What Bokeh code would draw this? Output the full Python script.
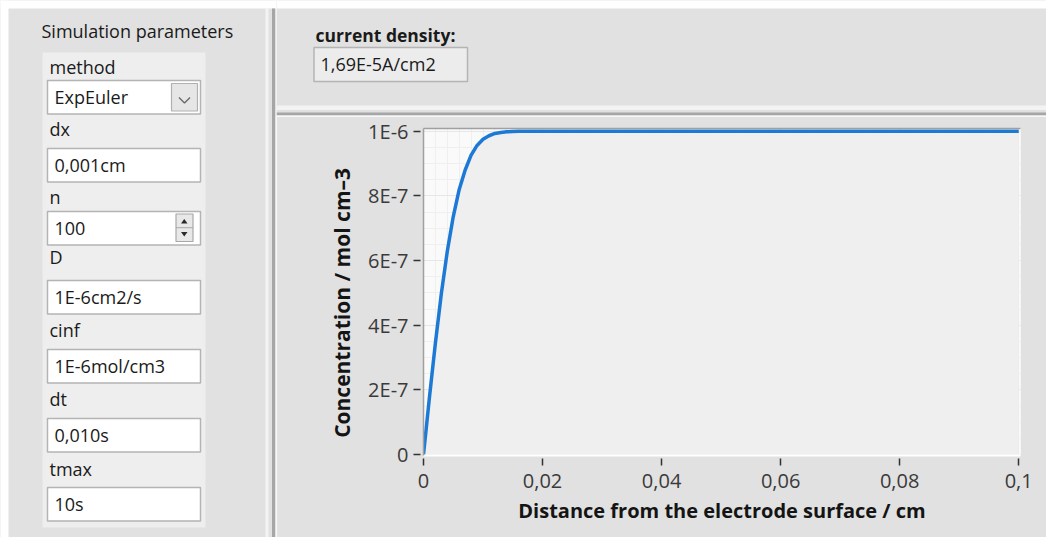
from bokeh.plotting import figure
from bokeh.layouts import row, column
from bokeh.models import Range1d, LinearAxis, FixedTicker, CustomJSTickFormatter, Grid
from bokeh.core.properties import value
from bokeh.embed import file_html
from bokeh.resources import INLINE

# ---------------- data ----------------
distance_cm = [0.000, 0.001, 0.002, 0.003, 0.004, 0.005, 0.006, 0.007, 0.008,
               0.009, 0.010, 0.011, 0.012, 0.013, 0.014, 0.015, 0.016, 0.100]
concentration = [0.0, 1.77e-7, 3.45e-7, 4.98e-7, 6.29e-7, 7.36e-7, 8.20e-7, 8.80e-7,
                 9.26e-7, 9.56e-7, 9.75e-7, 9.86e-7, 9.93e-7, 9.96e-7, 9.98e-7,
                 9.99e-7, 1.0e-6, 1.0e-6]
x_ticks = [0.0, 0.02, 0.04, 0.06, 0.08, 0.1]
y_ticks = [0.0, 2e-7, 4e-7, 6e-7, 8e-7, 1e-6]
x_label = "Distance from the electrode surface / cm"
y_label = "Concentration / mol cm\u20133"

panel_title = "Simulation parameters"
method_label = "method"
method_value = "ExpEuler"
param_labels = ["dx", "n", "D", "cinf", "dt", "tmax"]
param_values = ["0,001cm", "100", "1E-6cm2/s", "1E-6mol/cm3", "0,010s", "10s"]
result_label = "current density:"
result_value = "1,69E-5A/cm2"

# ---------------- style ----------------
FONT = "Open Sans"
BG = "#e1e1e1"
TXT = "#1a1a1a"
BORDER = "#b4b4b4"
MID = 7  # baseline -> middle offset for ~18px text

def txt(fig, xs, baselines, texts, size="18px", style="normal"):
    fig.text(x=xs, y=[b - MID for b in baselines], text=texts, text_font=value(FONT),
             text_font_size=size, text_font_style=style, text_color=TXT,
             text_baseline="middle", text_align="left")

# ---------------- left panel ----------------
L = figure(width=276, height=537, x_range=Range1d(0, 276), y_range=Range1d(537, 0),
           x_axis_type=None, y_axis_type=None, output_backend="svg", toolbar_location=None,
           min_border=0, background_fill_color=BG, border_fill_color=BG, outline_line_color=None)
L.frame_align = False
L.grid.visible = False
# page margin look (white strip left/top)
L.quad(left=0, right=8, top=0, bottom=537, fill_color="white", line_color=None)
L.quad(left=0, right=276, top=0, bottom=8, fill_color="white", line_color=None)

# separators
L.quad(left=265, right=268, top=8, bottom=537, fill_color="#f3f3f3", line_color=None)
L.quad(left=271.5, right=274.5, top=8, bottom=537, fill_color="#a6a6a6", line_color=None)

txt(L, [41], [37], [panel_title], size="18px")
L.quad(left=42, right=205, top=52, bottom=527, fill_color="#eeeeee", line_color=None)

# combo box
txt(L, [49], [73.5], [method_label])
L.quad(left=47, right=200, top=80, bottom=113.5, fill_color="white", line_color=BORDER, line_width=1.5)
L.quad(left=171, right=197, top=83, bottom=110.5, fill_color="#e6e6e6", line_color="#b0b0b0", line_width=1.2)
L.line(x=[178.5, 184, 189.5], y=[97, 102.5, 97], line_color="#6a6a6a", line_width=1.4)
txt(L, [54], [103.5], [method_value])

label_baselines = [135, 203, 263.5, 336.5, 405, 475]
box_tops = [148, 211, 280, 349, 418, 487]
BOX_H = 33.5
txt(L, [49] * len(param_labels), label_baselines, param_labels)
L.quad(left=[47] * len(box_tops), right=[200] * len(box_tops), top=box_tops,
       bottom=[t + BOX_H for t in box_tops], fill_color="white", line_color=BORDER, line_width=1.5)
txt(L, [54] * len(param_values), [t + 23.5 for t in box_tops], param_values)

# spinner on the "n" box
L.quad(left=175.5, right=192.5, top=213.5, bottom=241, fill_color="#e8e8e8", line_color="#a8a8a8", line_width=1.2)
L.line(x=[175.5, 192.5], y=[227.2, 227.2], line_color="#a8a8a8", line_width=1)
L.patches(xs=[[180.5, 187, 183.75], [180.5, 187, 183.75]],
          ys=[[223, 223, 218.5], [231.5, 231.5, 236]],
          fill_color="#2a2a2a", line_color=None)

# ---------------- top strip ----------------
T = figure(width=770, height=116, x_range=Range1d(276, 1046), y_range=Range1d(116, 0),
           x_axis_type=None, y_axis_type=None, output_backend="svg", toolbar_location=None,
           min_border=0, background_fill_color=BG, border_fill_color=BG, outline_line_color=None)
T.frame_align = False
T.grid.visible = False
T.quad(left=276, right=1046, top=0, bottom=8, fill_color="white", line_color=None)
txt(T, [315], [41.7], [result_label], size="17.5px", style="bold")
T.quad(left=313.5, right=467, top=47, bottom=81, fill_color="#ececec", line_color=BORDER, line_width=1.5)
txt(T, [320], [70.5], [result_value])
T.quad(left=276, right=1046, top=105, bottom=109.5, fill_color="#f3f3f3", line_color=None)
T.quad(left=276, right=1046, top=112, bottom=114.5, fill_color="#a6a6a6", line_color=None)

# ---------------- chart ----------------
P = figure(width=770, height=421, x_range=Range1d(0, 0.1003), y_range=Range1d(-0.0031e-6, 1.0084e-6),
           x_axis_type=None, y_axis_type=None, output_backend="svg", toolbar_location=None,
           min_border_left=147, min_border_right=26, min_border_top=12, min_border_bottom=82,
           background_fill_color="#fafafa", border_fill_color=BG, outline_line_color=None)
P.frame_align = False

x_minor = [i * 0.002 for i in range(51)]
y_minor = [i * 0.5e-7 for i in range(21)]
xt = FixedTicker(ticks=x_ticks, minor_ticks=x_minor)
yt = FixedTicker(ticks=y_ticks, minor_ticks=y_minor)

xfmt = CustomJSTickFormatter(code="""
if (Math.abs(tick) < 1e-12) return "0";
return (Math.round(tick*100)/100).toString().replace(".", ",");
""")
yfmt = CustomJSTickFormatter(code="""
if (Math.abs(tick) < 1e-15) return "0";
const e = Math.floor(Math.log10(Math.abs(tick)) + 1e-9);
const m = Math.round(tick / Math.pow(10, e));
return m + "E" + e;
""")

common = dict(major_tick_in=-3, major_tick_out=10, major_tick_line_color="#333333",
              major_tick_line_width=1.5, minor_tick_in=0, minor_tick_out=0,
              major_label_text_font=FONT, major_label_text_font_size="20px",
              major_label_text_color="#3a3a3a",
              axis_label_text_font=FONT, axis_label_text_font_style="bold",
              axis_label_text_color="#141414")

xaxis = LinearAxis(ticker=xt, formatter=xfmt, axis_label=x_label, axis_line_color="white",
                   axis_line_width=2, major_label_standoff=8, axis_label_standoff=6,
                   axis_label_text_font_size="20px", **common)
yaxis = LinearAxis(ticker=yt, formatter=yfmt, axis_label=y_label + "\u00a0" * 4,
                   axis_line_color="#a0a0a0", axis_line_width=1.5, major_label_standoff=5,
                   axis_label_standoff=9, axis_label_text_font_size="21px", **common)
topaxis = LinearAxis(ticker=FixedTicker(ticks=[]), axis_line_color="#a0a0a0", axis_line_width=1.5,
                     major_tick_in=0, major_tick_out=0, minor_tick_in=0, minor_tick_out=0,
                     major_label_text_font_size="0px")
P.add_layout(xaxis, "below")
P.add_layout(yaxis, "left")
P.add_layout(topaxis, "above")

P.add_layout(Grid(dimension=0, ticker=xt, grid_line_color="#e6e6e6", grid_line_width=1,
                  minor_grid_line_color="#efefef", minor_grid_line_width=1))
P.add_layout(Grid(dimension=1, ticker=yt, grid_line_color="#e6e6e6", grid_line_width=1,
                  minor_grid_line_color="#efefef", minor_grid_line_width=1))

P.varea(x=distance_cm, y1=0, y2=concentration, fill_color="#efefef")
P.line(x=distance_cm, y=concentration, line_color="#1c7ad6", line_width=3.5)

layout = row(L, column(T, P))
open("out.html", "w").write(file_html(layout, INLINE, title="Simulation"))
